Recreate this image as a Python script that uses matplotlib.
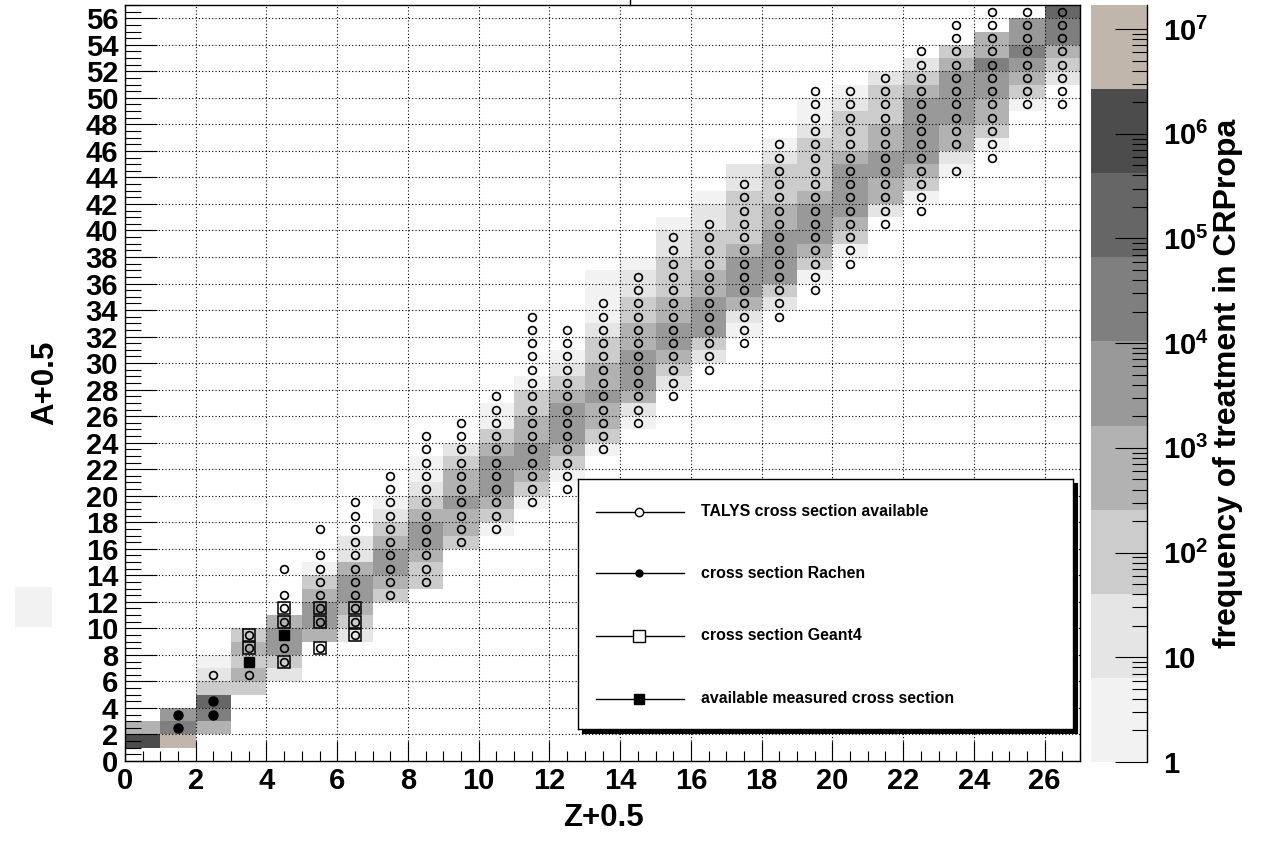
import numpy as np
import matplotlib
matplotlib.use('Agg')
import matplotlib.pyplot as plt
from matplotlib.colors import ListedColormap, BoundaryNorm
from matplotlib.ticker import MultipleLocator, LogLocator, NullFormatter
from matplotlib.patches import Rectangle
from matplotlib.lines import Line2D

plt.rcParams['font.family'] = 'Liberation Sans'
plt.rcParams['font.weight'] = 'bold'
plt.rcParams['mathtext.fontset'] = 'custom'
plt.rcParams['mathtext.rm'] = 'Liberation Sans:bold'
plt.rcParams['mathtext.bf'] = 'Liberation Sans:bold'
plt.rcParams['mathtext.it'] = 'Liberation Sans:bold'

# colour bands of the z axis (log scale), bottom to top
band_colors = ['#f2f2f2', '#e5e5e5', '#cccccc', '#b2b2b2', '#999999',
               '#7f7f7f', '#666666', '#4c4c4c', '#c0b6ac']
log_top = 7.23

# histogram: for each Z column, first A and band index (1..9) of each cell going up
band_start = [1, 1, 2, 5, 6, 9, 9, 12, 13, 16, 17, 19, 21, 23, 25, 28, 30, 32,
              34, 36, 38, 41, 42, 44, 46, 49, 51]
band_levels = [
    [8, 4],
    [9, 6, 5],
    [4, 6, 7, 3, 2, 1],
    [3, 4, 3, 4, 3],
    [2, 3, 5, 5, 4],
    [4, 5, 5, 4, 3, 1],
    [2, 3, 4, 5, 5, 4, 2, 2],
    [3, 4, 5, 5, 4, 3, 2, 1],
    [3, 3, 4, 5, 5, 4, 3, 2, 1, 1],
    [3, 4, 4, 5, 4, 4, 3, 2],
    [1, 3, 4, 5, 5, 5, 4, 3, 1, 1],
    [1, 3, 4, 5, 5, 4, 4, 3, 3, 1],
    [1, 3, 4, 5, 5, 5, 4, 3, 2, 1],
    [1, 3, 4, 4, 5, 4, 4, 3, 3, 2, 1, 1, 1, 1],
    [1, 2, 4, 5, 5, 5, 4, 4, 3, 3, 2, 2, 1],
    [2, 3, 4, 5, 5, 4, 4, 3, 3, 3, 2, 2, 1],
    [2, 3, 5, 5, 5, 4, 4, 3, 3, 3, 2, 2, 1],
    [1, 2, 4, 5, 5, 5, 4, 3, 3, 3, 3, 2, 2],
    [2, 3, 5, 5, 5, 5, 4, 4, 3, 3, 3, 2, 1],
    [1, 3, 4, 5, 5, 5, 4, 3, 3, 3, 3, 2, 1, 1],
    [1, 3, 4, 5, 5, 5, 5, 4, 3, 3, 3, 2, 1],
    [2, 4, 4, 5, 5, 4, 4, 3, 3, 3, 2],
    [1, 3, 4, 5, 5, 5, 5, 5, 4, 3, 2],
    [1, 2, 4, 4, 5, 5, 5, 5, 4, 3],
    [1, 3, 4, 4, 5, 5, 6, 4, 4],
    [1, 3, 4, 5, 6, 5, 5],
    [2, 3, 4, 6, 6, 7],
]

# TALYS points: first / last A per Z, and missing A inside those ranges
talys_z = list(range(2, 27))
talys_first = [6, 6, 7, 8, 9, 12, 13, 16, 17, 19, 20, 23, 25, 27, 29, 31, 33,
               35, 37, 40, 41, 44, 45, 49, 49]
talys_last = [6, 9, 14, 17, 19, 21, 24, 25, 27, 33, 32, 34, 36, 39, 40, 43, 46,
              50, 50, 51, 53, 55, 56, 56, 56]
talys_gaps = [(3, 7), (4, 9), (4, 13), (5, 9), (5, 16), (23, 45)]

rachen_z = [1, 1, 2, 2]
rachen_a = [2, 3, 3, 4]
geant4_z = [3, 3, 4, 4, 4, 5, 5, 5, 6, 6, 6]
geant4_a = [8, 9, 7, 10, 11, 8, 10, 11, 9, 10, 11]
measured_z = [3, 4]
measured_a = [7, 9]

legend_labels = ['TALYS cross section available', 'cross section Rachen',
                 'cross section Geant4', 'available measured cross section']

W, H = 1261, 848
fig = plt.figure(figsize=(W / 100, H / 100), dpi=100)

ax = fig.add_axes([125 / W, 1 - 761 / H, 955 / W, 756 / H])

edges = 10 ** np.linspace(0, log_top, len(band_colors) + 1)
hist = np.full((57, 27), np.nan)
for z, (a0, levs) in enumerate(zip(band_start, band_levels)):
    for k, lev in enumerate(levs):
        hist[a0 + k, z] = np.sqrt(edges[lev - 1] * edges[lev])

cmap = ListedColormap(band_colors)
norm = BoundaryNorm(edges, cmap.N)
ax.pcolormesh(np.arange(28), np.arange(58), np.ma.masked_invalid(hist),
              cmap=cmap, norm=norm, shading='flat', antialiased=False, zorder=1)

# markers
tz, ta = [], []
for z, a1, a2 in zip(talys_z, talys_first, talys_last):
    for a in range(a1, a2 + 1):
        if (z, a) not in talys_gaps:
            tz.append(z)
            ta.append(a)
tz = np.array(tz) + 0.5
ta = np.array(ta) + 0.5
ax.plot(tz, ta, ls='none', marker='o', ms=5.6, mfc='none', mec='black', mew=1.2, zorder=4)
ax.plot(np.array(geant4_z) + 0.5, np.array(geant4_a) + 0.5, ls='none', marker='s',
        ms=8.8, mfc='none', mec='black', mew=1.1, zorder=5)
ax.plot(np.array(rachen_z) + 0.5, np.array(rachen_a) + 0.5, ls='none', marker='o',
        ms=6.5, mfc='black', mec='black', zorder=5)
ax.plot(np.array(measured_z) + 0.5, np.array(measured_a) + 0.5, ls='none', marker='s',
        ms=7, mfc='black', mec='black', zorder=5)

ax.set_xlim(0, 27)
ax.set_ylim(0, 57)
ax.xaxis.set_major_locator(MultipleLocator(2))
ax.xaxis.set_minor_locator(MultipleLocator(0.5))
ax.yaxis.set_major_locator(MultipleLocator(2))
ax.yaxis.set_minor_locator(MultipleLocator(0.5))
ax.set_axisbelow(False)
ax.grid(True, which='major', color='black', linestyle=(0, (1, 2)), lw=0.8)
ax.tick_params(which='both', direction='in', top=False, right=False, width=0.8)
ax.tick_params(axis='x', which='major', length=14.4, pad=4, labelsize=21)
ax.tick_params(axis='x', which='minor', length=7.2)
ax.tick_params(axis='y', which='major', length=23, pad=5, labelsize=21)
ax.tick_params(axis='y', which='minor', length=11.5)
for lab in ax.get_xticklabels() + ax.get_yticklabels():
    lab.set_fontweight('bold')
for s in ax.spines.values():
    s.set_linewidth(1.0)

fig.text(45 / W, 1 - 383 / H, 'A+0.5', rotation=90, ha='center', va='center',
         fontsize=22.5, fontweight='bold')
fig.text(603 / W, 1 - 818 / H, 'Z+0.5', ha='center', va='center',
         fontsize=22.5, fontweight='bold')

# colour scale
cax = fig.add_axes([1091 / W, 1 - 762 / H, 56 / W, 757 / H])
cax.set_yscale('log')
cax.set_xlim(0, 1)
cax.set_ylim(1, 10 ** log_top)
for i, c in enumerate(band_colors):
    cax.axhspan(edges[i], edges[i + 1], color=c, lw=0)
cax.set_xticks([])
cax.yaxis.tick_right()
dec = 10.0 ** np.arange(8)
cax.set_yticks(dec)
cax.set_yticklabels(['1', '10'] + [r'$\mathbf{10^{%d}}$' % k for k in range(2, 8)])
cax.yaxis.set_minor_locator(LogLocator(base=10, subs=np.arange(2, 10), numticks=20))
cax.yaxis.set_minor_formatter(NullFormatter())
cax.tick_params(axis='y', which='major', direction='in', length=23, width=0.8,
                pad=11.5, labelsize=21, left=False, right=True)
cax.tick_params(axis='y', which='minor', direction='in', length=11, width=0.8,
                left=False, right=True)
for k in ['top', 'left', 'bottom']:
    cax.spines[k].set_visible(False)
cax.spines['right'].set_linewidth(1.0)
fig.text(1228 / W, 1 - 383 / H, 'frequency of treatment in CRPropa', rotation=90,
         ha='center', va='center', fontsize=23, fontweight='bold')

# legend box with shadow
shadow = fig.add_axes([582 / W, 1 - 733 / H, 495 / W, 250 / H])
shadow.set_facecolor('black')
shadow.set_xticks([])
shadow.set_yticks([])
lax = fig.add_axes([578 / W, 1 - 729 / H, 495 / W, 250 / H])
lax.set_xlim(0, 495)
lax.set_ylim(250, 0)
lax.set_xticks([])
lax.set_yticks([])
for s in lax.spines.values():
    s.set_linewidth(1.0)
entry_y = [32.7, 94, 156.7, 219.7]
styles = [dict(marker='o', ms=6, mfc='white', mec='black', mew=1.0),
          dict(marker='o', ms=5, mfc='black', mec='black'),
          dict(marker='s', ms=8.6, mfc='white', mec='black', mew=1.0),
          dict(marker='s', ms=6.5, mfc='black', mec='black')]
for y, lab, st in zip(entry_y, legend_labels, styles):
    lax.plot([18, 106], [y, y], color='black', lw=1.0)
    lax.plot([61], [y], ls='none', **st)
    lax.text(122.7, y, lab, va='center', ha='left', fontsize=11.4, fontweight='bold')

# small leftovers of the original canvas
fig.add_artist(Rectangle((15 / W, 1 - 627 / H), 37 / W, 40 / H, color='#f2f2f2',
                         transform=fig.transFigure, lw=0))
fig.add_artist(Line2D([630 / W, 630 / W], [1, 1 - 5 / H], color='black', lw=1,
                      transform=fig.transFigure))

fig.savefig('out.png', dpi=100)
